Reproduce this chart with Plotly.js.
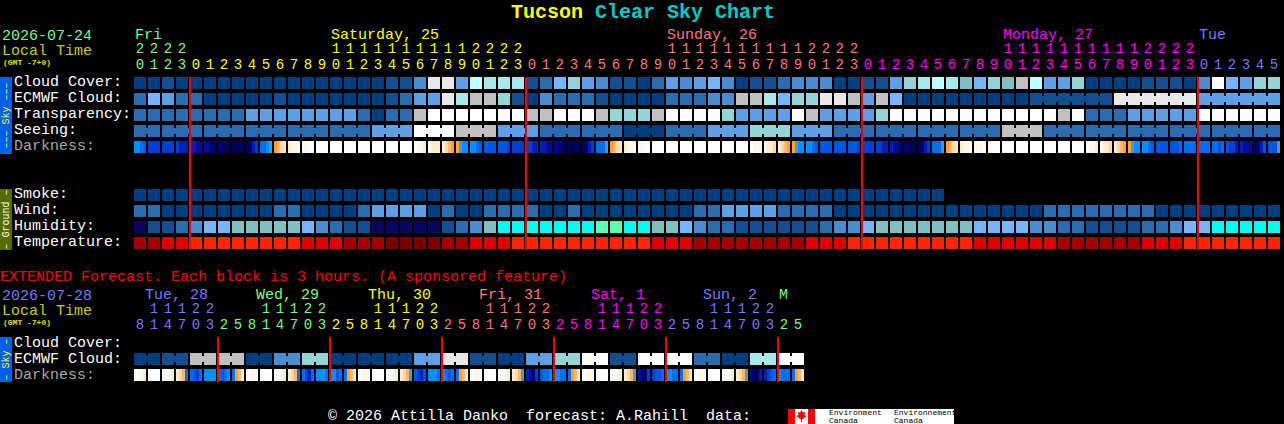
<!DOCTYPE html>
<html>
<head>
<meta charset="utf-8">
<script src="https://cdn.plot.ly/plotly-3.0.1.min.js"></script>
<style>html,body{margin:0;padding:0;background:#000;overflow:hidden}#chart{width:1284px;height:424px}</style>
</head>
<body>
<div id="chart"></div>
<script>
// ---------- palettes ----------
const skyColors = ['#003F7F','#134F8F','#2B6CAE','#4B8CD0','#5F9FE5','#77B4FF','#80BFBF','#94D4D4','#A8E8E8','#BEFFFF','#C0C0C0','#E8E8E8','#FFFFFF'];
const humidityColors = {n:'#06065F',c:'#00FFF0',t:'#5CFFB0'};
const temperatureColors = ['#7A0000','#A50000','#E10000','#FF2400'];
const darknessColors = {a:'#FFFFFF',b:'#FFF7EA',c:'#FFEBCF',d:'#FFD79F',e:'#FFB860',f:'#FFA030',s:'#40A0C0',g:'#0090FF',h:'#0070F0',i:'#0058E0',j:'#0040D0',k:'#0020B8',l:'#000C98',m:'#000078',n:'#000058'};

// ---------- hourly forecast ----------
const hours = [20,21,22,23,0,1,2,3,4,5,6,7,8,9,10,11,12,13,14,15,16,17,18,19,20,21,22,23,0,1,2,3,4,5,6,7,8,9,10,11,12,13,14,15,16,17,18,19,20,21,22,23,0,1,2,3,4,5,6,7,8,9,10,11,12,13,14,15,16,17,18,19,20,21,22,23,0,1,2,3,4,5];
const midnights = [4,28,52,76];
const cloudCover = [0,0,1,0,0,0,0,0,0,0,0,0,0,0,0,0,0,0,1,1,3,11,11,4,9,8,8,8,1,2,5,7,4,3,1,1,0,2,4,3,4,5,3,0,1,1,2,3,3,3,0,0,1,1,4,7,8,9,8,6,5,7,6,10,9,4,4,7,0,0,0,0,1,1,1,0,3,12,5,4,7,7];
const ecmwfCloud = [2,5,4,2,2,0,0,0,0,0,1,0,0,0,0,0,0,0,1,2,4,4,11,8,10,10,7,1,0,3,2,2,2,1,0,0,0,0,2,2,2,3,3,10,10,8,5,7,7,11,11,10,4,10,5,0,0,0,0,0,0,0,0,0,1,1,1,1,1,1,11,11,11,11,11,11,4,4,4,4,4,4];
const transparency = [2,2,2,2,2,2,2,2,4,4,4,4,4,4,4,4,2,0,2,2,10,12,12,12,12,12,12,12,10,10,12,12,12,10,7,7,7,10,12,12,12,12,7,4,4,4,4,12,10,4,4,4,4,7,12,12,12,12,12,12,12,12,12,12,12,12,10,12,2,2,2,4,4,4,4,4,12,12,12,12,12,12];
const seeing = [2,2,2,2,2,2,2,2,2,2,2,2,2,2,2,2,2,4,4,4,12,12,12,10,10,10,4,4,4,2,2,2,2,2,2,0,0,0,2,2,2,4,4,4,7,7,7,4,4,4,2,2,2,2,2,2,2,2,2,2,2,2,10,10,10,2,2,2,2,2,2,2,2,2,2,2,2,2,2,2,2,2];
const seeingRuns = [2,3,3,3,3,3,3,3,3,3,3,3,3,3,3,3,3,3,3,3,3,3,3,3,3,3,3,2];
const darkness = ['gghi','jjjj','jjjj','jkkk','kkll','llmm','mnnn','nnnn','nmkj','hhgs','fedc','cbbb','bbaa','aaaa','aaaa','aaaa','aaaa','aaaa','aaaa','aaab','abbc','bccc','cdef','fsgg','gghi','iiii','iiij','jjjj','jjkk','kkll','lmmn','nnnn','nmkj','hhhs','fedc','cbbb','bbaa','aaaa','aaaa','aaaa','aaaa','aaaa','aaaa','aaaa','abbb','bccd','cdef','fsgg','gghi','iiii','iiii','iiij','jjjj','jjkk','kllm','mnnn','nmkj','hhhs','fedc','cbbb','bbba','baaa','aaaa','aaaa','aaaa','aaaa','aaaa','aaaa','abbc','bccd','cdef','fsgg','gghi','iiii','iiih','hhhh','hhhh','hhih','ijjk','klll','nmki','iiis'];
const smoke = [0,0,0,0,0,0,0,0,0,0,0,0,0,0,0,0,0,0,0,0,0,0,0,0,0,0,0,0,0,0,0,0,0,0,0,0,0,0,0,0,0,0,0,0,0,0,0,0,0,0,0,0,0,0,0,0,0,0];
const wind = [2,2,0,0,0,0,0,0,0,0,2,2,0,0,0,0,2,4,4,4,4,0,2,0,0,2,2,2,2,0,0,2,0,0,0,0,0,0,0,0,2,2,4,4,4,4,2,2,2,2,0,0,0,0,0,0,0,0,0,0,0,0,0,0,0,2,2,2,2,2,2,2,2,0,0,0,0,0,0,0,0,0];
const humidity = ['n',1,1,2,3,5,5,6,6,6,6,6,5,3,2,1,1,'n','n','n','n','n',1,2,3,6,'c','c','c','c','c','c','c','t','t','c','c',6,6,5,3,2,2,1,1,1,1,1,1,2,3,3,5,6,6,6,6,6,6,6,5,5,5,5,3,3,2,2,1,1,1,1,2,2,3,5,5,'c','c','c','c','c'];
const temperature = [1,1,2,2,3,3,3,3,3,3,3,3,2,2,2,1,1,1,0,0,0,0,1,1,2,2,2,3,3,3,3,3,3,3,3,3,3,2,2,2,1,1,1,1,1,1,1,1,2,2,2,3,3,3,3,3,3,3,3,3,2,2,2,2,2,2,1,1,1,1,1,1,2,2,2,3,3,3,3,3,3,3];

// ---------- extended (3-hourly) forecast ----------
const extHours = [8,11,14,17,20,23,2,5,8,11,14,17,20,23,2,5,8,11,14,17,20,23,2,5,8,11,14,17,20,23,2,5,8,11,14,17,20,23,2,5,8,11,14,17,20,23,2,5];
const extMidnights = [6,14,22,30,38,46];
const extEcmwf = [0,1,10,10,0,3,7,0,0,0,4,11,1,0,4,7,12,1,12,12,2,0,8,12];
const extDarkness = ['abbc','aaaa','aabc','cdeh','hijh','gggg','hihg','hfeb','abbb','aaaa','aabc','cdeh','hjkh','gggh','ggih','hfec','abbb','aaaa','aabc','cdes','ijki','gggh','ghih','hfec','abbb','aaaa','aabc','cdes','klmj','ihhg','gghh','hfec','abbb','aaaa','aabc','cdes','lnmj','jiih','gghh','hfec','abbb','aaaa','aabc','cdes','mnnk','kjih','ghhh','hfec'];

// ---------- text ----------
const dayStyle = {fri:'#77FF77',sat:'#FFFF00',sun:'#FF7777',mon:'#FF00FF',tue:'#7777FF'};
const mainDayEnds = [[4,dayStyle.fri],[28,dayStyle.sat],[52,dayStyle.sun],[76,dayStyle.mon],[82,dayStyle.tue]];
const extDayEnds = [[6,dayStyle.tue],[14,dayStyle.fri],[22,dayStyle.sat],[30,dayStyle.sun],[38,dayStyle.mon],[46,dayStyle.tue],[48,dayStyle.fri]];
const dayLabels = [['Fri',135,dayStyle.fri],['Saturday, 25',331,dayStyle.sat],['Sunday, 26',667,dayStyle.sun],['Monday, 27',1003,dayStyle.mon],['Tue',1199,dayStyle.tue]];
const extDayLabels = [['Tue, 28',145,dayStyle.tue],['Wed, 29',256,dayStyle.fri],['Thu, 30',368,dayStyle.sat],['Fri, 31',479,dayStyle.sun],['Sat, 1',591,dayStyle.mon],['Sun, 2',703,dayStyle.tue],['M',779,dayStyle.fri]];

// ---------- page layout (pixels) ----------
const W = 1284, H = 424, PITCH = 14, CELL = 12, FIRST = 140;
const ROW = {cloud:77,ecmwf:93,transp:109,seeing:125,dark:141,smoke:189,wind:205,humid:221,temp:237,xcloud:337,xecmwf:353,xdark:369};
const cw = CELL/PITCH, gw = (PITCH-CELL)/PITCH;
const traces = [];

function cellTrace(vals, top, colorOf){
  const x=[],c=[];
  vals.forEach((v,i)=>{x.push(i);c.push(colorOf(v));});
  traces.push({type:'bar',x,y:x.map(()=>CELL),base:x.map(()=>top),width:cw,
    marker:{color:c,line:{width:0}},hoverinfo:'skip'});
}
function connectTrace(colors, starts, lens, top){
  const x=[],c=[];
  starts.forEach((s,r)=>{for(let i=s;i<s+lens[r]-1;i++){x.push(i+0.5);c.push(colors[i]);}});
  traces.push({type:'bar',x,y:x.map(()=>6),base:x.map(()=>top+3),width:gw,
    marker:{color:c,line:{width:0}},hoverinfo:'skip'});
}
function subTrace(cells, top){
  const x=[],c=[];
  cells.forEach((s,i)=>{[...s].forEach((ch,k)=>{x.push(i+(k-1.5)*3/PITCH);c.push(darknessColors[ch]);});});
  traces.push({type:'bar',x,y:x.map(()=>CELL),base:x.map(()=>top),width:3/PITCH,
    marker:{color:c,line:{width:0}},hoverinfo:'skip'});
}
const sky = v=>skyColors[v];
const hum = v=>typeof v==='string'?humidityColors[v]:skyColors[v];
const tmp = v=>temperatureColors[v];

cellTrace(cloudCover,ROW.cloud,sky);
cellTrace(ecmwfCloud,ROW.ecmwf,sky);
connectTrace(ecmwfCloud.map(sky),[64,70,76],[6,6,6],ROW.ecmwf);
cellTrace(transparency,ROW.transp,sky);
cellTrace(seeing,ROW.seeing,sky);
{let s=0;const st=[];seeingRuns.forEach(l=>{st.push(s);s+=l;});connectTrace(seeing.map(sky),st,seeingRuns,ROW.seeing);}
subTrace(darkness,ROW.dark);
cellTrace(smoke,ROW.smoke,sky);
cellTrace(wind,ROW.wind,sky);
cellTrace(humidity,ROW.humid,hum);
cellTrace(temperature,ROW.temp,tmp);

const extCells = extEcmwf.flatMap(v=>[v,v]);
cellTrace(extCells,ROW.xecmwf,sky);
connectTrace(extCells.map(sky),extEcmwf.map((_,i)=>i*2),extEcmwf.map(()=>2),ROW.xecmwf);
subTrace(extDarkness,ROW.xdark);

// midnight markers
function redLines(cols,y0,y1){
  const x=cols.map(c=>c-CELL/2/PITCH);
  traces.push({type:'bar',x,y:x.map(()=>y1-y0),base:x.map(()=>y0),width:2/PITCH,
    marker:{color:'#FF0000',line:{width:0}},hoverinfo:'skip'});
}
redLines(midnights,77,250);
redLines(extMidnights,337,382);

// hour digits
function colorFor(i,ends){for(const e of ends) if(i<e[0]) return e[1];return '#FFF';}
const FONT = '"Liberation Mono", monospace';
function digits(hrs,ends,yTens,yOnes){
  const xs=hrs.map((_,i)=>i), cs=hrs.map((_,i)=>colorFor(i,ends));
  traces.push({type:'scatter',mode:'text',x:xs,y:xs.map(()=>yOnes),text:hrs.map(h=>String(h%10)),
    textposition:'middle center',textfont:{family:FONT,size:14,color:cs},hoverinfo:'skip'});
  const tx=[],tt=[],tc=[];
  hrs.forEach((h,i)=>{if(h>=10){tx.push(i);tt.push(String(Math.floor(h/10)));tc.push(cs[i]);}});
  traces.push({type:'scatter',mode:'text',x:tx,y:tx.map(()=>yTens),text:tt,
    textposition:'middle center',textfont:{family:FONT,size:14,color:tc},hoverinfo:'skip'});
}
digits(hours,mainDayEnds,49,65.5);
digits(extHours,extDayEnds,309,325.5);

// annotations & shapes
const ann=[];
function label(text,px,py,color,size,bold,extra){
  ann.push(Object.assign({text:bold?'<b>'+text+'</b>':text,xref:'paper',yref:'y',x:px/W,y:py,xanchor:'left',yanchor:'middle',
    showarrow:false,borderpad:0,borderwidth:0,font:{family:FONT,size:size||15,color}},extra||{}));
}
label('Tucson',511,12,'#FFFF00',20,true);
label('Clear Sky Chart',595,12,'#00CCCC',20,true);
label('2026-07-24',2,36,'#77FF77');
label('Local Time',2,51,'#CCCC00');
label('(GMT -7+0)',3,62,'#E0E000',8,true);
dayLabels.forEach(d=>label(d[0],d[1],35,d[2]));
[['Cloud Cover:',82],['ECMWF Cloud:',98],['Transparency:',114],['Seeing:',130]].forEach(r=>label(r[0],14,r[1],'#FFFFFF'));
label('Darkness:',14,146,'#A8A8A8');
[['Smoke:',194],['Wind:',210],['Humidity:',226],['Temperature:',242]].forEach(r=>label(r[0],14,r[1],'#FFFFFF'));
label('EXTENDED Forecast. Each block is 3 hours. (A sponsored feature)',0,277,'#FF0000');
label('2026-07-28',2,296,'#7777FF');
label('Local Time',2,311,'#CCCC00');
label('(GMT -7+0)',3,322,'#E0E000',8,true);
extDayLabels.forEach(d=>label(d[0],d[1],295,d[2]));
label('Cloud Cover:',14,343,'#FFFFFF');
label('ECMWF Cloud:',14,359,'#FFFFFF');
label('Darkness:',14,375,'#A8A8A8');
label('\u00A9 2026 Attilla Danko\u00A0\u00A0forecast: A.Rahill\u00A0\u00A0data:',328,416,'#FFFFFF');
label('Environment',829,412.5,'#000000',8);
label('Canada',829,420,'#000000',8);
label('Environnement',894,412.5,'#000000',8);
label('Canada',894,420,'#000000',8);

function vert(text,py,color){
  ann.push({text,xref:'paper',yref:'y',x:6/W,y:py,xanchor:'center',yanchor:'middle',textangle:-90,showarrow:false,borderpad:0,
    font:{family:FONT,size:10,color}});
}
vert('\u2013\u2013\u2013 Sky \u2013\u2013\u2013',115.5,'#FFFF00');
vert('\u2013 Ground \u2013',219.5,'#FFFFFF');
vert('\u2013 Sky \u2013',359.5,'#FFFF00');

const px=v=>v/W, py=v=>1-v/H;
function rectPx(x0,y0,x1,y1,c){return {type:'rect',xref:'paper',yref:'paper',x0:px(x0),x1:px(x1),y0:py(y0),y1:py(y1),fillcolor:c,line:{width:0},layer:'below'};}
const leaf=[[801.5,410],[803,412.5],[805,412],[804.5,415],[806.5,416],[803,419],[802,419],[802,422],[801,422],[801,419],[800,419],[796.5,416],[798.5,415],[798,412],[800,412.5]];
const shapes=[
  rectPx(0,77,12,154,'#0060EC'),
  rectPx(0,189,12,250,'#566B00'),
  rectPx(0,337,12,382,'#0060EC'),
  rectPx(788,409,954,424,'#FFFFFF'),
  rectPx(788,409,795,424,'#FF0000'),
  rectPx(808,409,815,424,'#FF0000'),
  {type:'path',xref:'paper',yref:'paper',path:'M'+leaf.map(p=>px(p[0])+','+py(p[1])).join('L')+'Z',fillcolor:'#FF0000',line:{width:0},layer:'below'}
];

const layout={
  width:W,height:H,margin:{l:0,r:0,t:0,b:0,pad:0},
  paper_bgcolor:'#000',plot_bgcolor:'#000',showlegend:false,barmode:'overlay',
  xaxis:{range:[-FIRST/PITCH,(W-FIRST)/PITCH],visible:false,fixedrange:true},
  yaxis:{range:[H,0],visible:false,fixedrange:true},
  annotations:ann,shapes
};
Plotly.newPlot('chart',traces,layout,{displayModeBar:false,staticPlot:true});
</script>
</body>
</html>
